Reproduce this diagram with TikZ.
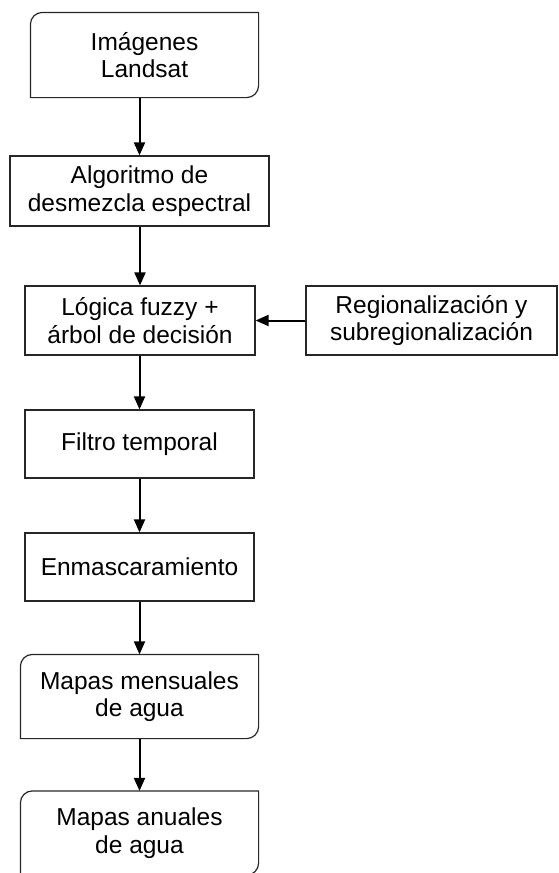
\documentclass[tikz,border=0pt]{standalone}
\usepackage{fontspec}
\setmainfont{Liberation Sans}
\usetikzlibrary{arrows.meta}

\tikzset{
  box/.style={draw=black!85, line width=1.2pt, inner sep=0pt, align=center,
    font=\fontsize{24.5}{27.5}\selectfont},
  rbox/.style={box, draw=none},
  flow/.style={line width=2pt, -{Triangle[length=13pt,width=11pt]}}
}

\begin{document}
\begin{tikzpicture}[x=1pt,y=1pt]
\useasboundingbox (0,0) rectangle (558,-873);
\clip (0,0) rectangle (558,-873);
% main column
\node[rbox, minimum width=227, minimum height=84] (img) at (144.5,-55) {Imágenes\\Landsat};
\node[box, minimum width=259, minimum height=70] (alg) at (139.5,-191) {Algoritmo de\\desmezcla espectral};
\node[box, minimum width=230, minimum height=69] (log) at (140,-320.5) {Lógica fuzzy +\\árbol de decisión};
\node[box, minimum width=251, minimum height=69] (reg) at (431.5,-320.5) {Regionalización y\\subregionalización};
\node[box, minimum width=229, minimum height=68] (fil) at (139.5,-444) {Filtro temporal};
\node[box, minimum width=229, minimum height=68] (enm) at (139.5,-567) {Enmascaramiento};
\node[rbox, minimum width=237, minimum height=83] (mens) at (139.5,-696.5) {Mapas mensuales\\de agua};
\node[rbox, minimum width=237, minimum height=83] (anu) at (139.5,-833) {Mapas anuales\\de agua};
% outlines with two rounded corners
\foreach \b in {img,mens,anu}
  \draw[draw=black!85, line width=1.2pt] ([yshift=-12pt]\b.north west) arc[start angle=180,end angle=90,radius=12pt]
    -- (\b.north east) -- ([yshift=12pt]\b.south east) arc[start angle=0,end angle=-90,radius=12pt]
    -- (\b.south west) -- cycle;
% connectors
\draw[flow] (img.south -| alg.north) -- (alg.north);
\draw[flow] (alg.south -| log.north) -- (log.north);
\draw[flow] (log.south -| fil.north) -- (fil.north);
\draw[flow] (fil.south) -- (enm.north);
\draw[flow] (enm.south) -- (mens.north);
\draw[flow] (mens.south) -- (anu.north);
\draw[flow] (reg.west) -- (log.east);
\end{tikzpicture}
\end{document}
